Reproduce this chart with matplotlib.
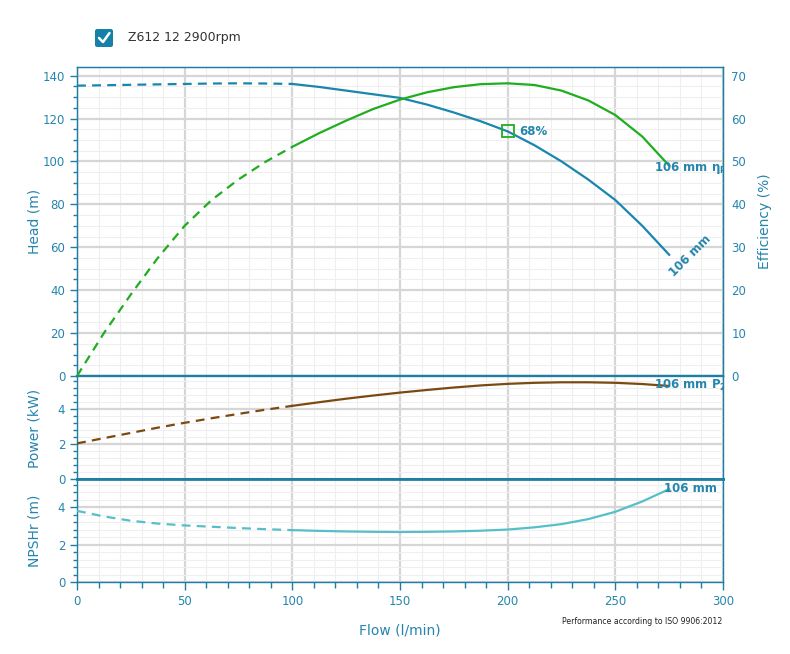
import matplotlib
matplotlib.use("Agg")
import matplotlib.pyplot as plt
from matplotlib.ticker import MultipleLocator
from matplotlib.patches import FancyBboxPatch

# ---------------- data ----------------
flow = [0, 12.5, 25, 37.5, 50, 62.5, 75, 87.5, 100, 112.5, 125, 137.5, 150,
        162.5, 175, 187.5, 200, 212.5, 225, 237.5, 250, 262.5, 275]
head = [135.3, 135.5, 135.7, 135.9, 136.1, 136.3, 136.4, 136.3, 136.1, 134.7,
        133.0, 131.3, 129.6, 126.5, 122.8, 118.7, 114.0, 107.5, 100.0, 91.5,
        82.0, 70.0, 56.5]
eff = [0, 10, 19, 27.5, 35, 41, 45.8, 49.9, 53.4, 56.6, 59.5, 62.2, 64.4,
       66.1, 67.3, 68.0, 68.2, 67.8, 66.5, 64.2, 60.8, 55.8, 49.0]
power = [2.04, 2.34, 2.64, 2.94, 3.22, 3.48, 3.73, 3.97, 4.19, 4.40, 4.60,
         4.78, 4.95, 5.10, 5.24, 5.36, 5.45, 5.51, 5.54, 5.54, 5.51, 5.44, 5.33]
npsh = [3.80, 3.50, 3.27, 3.12, 3.02, 2.95, 2.88, 2.82, 2.77, 2.73, 2.70,
        2.68, 2.67, 2.68, 2.70, 2.74, 2.80, 2.92, 3.09, 3.36, 3.75, 4.30, 4.96]
dash_end = 8          # index of flow 100 l/min: curves dashed before it
bep_flow, bep_head, bep_eff = 200, 114, 68
curve_label = "106 mm"
legend_label = "Z612 12 2900rpm"
xticks = [0, 50, 100, 150, 200, 250, 300]

# ---------------- styles ----------------
TEAL = "#1f7fa3"
TXT = "#2585ad"
HEAD_C = "#1a86ad"
EFF_C = "#20ad20"
POW_C = "#7a4a12"
NPSH_C = "#56bfc7"
GRID_MAJ = "#d6d6d6"
GRID_MIN = "#efefef"

W, H = 790, 654
fig = plt.figure(figsize=(W / 100, H / 100), dpi=100)
plt.rcParams["mathtext.fontset"] = "dejavusans"

def frac_rect(x0, y0, x1, y1):
    return [x0 / W, 1 - y1 / H, (x1 - x0) / W, (y1 - y0) / H]

ax_h = fig.add_axes(frac_rect(77, 67, 723, 376))
ax_p = fig.add_axes(frac_rect(77, 376, 723, 479), sharex=ax_h)
ax_n = fig.add_axes(frac_rect(77, 479, 723, 582), sharex=ax_h)

def style(ax, ymax, major, minor):
    ax.set_xlim(0, 300)
    ax.set_ylim(0, ymax)
    ax.xaxis.set_major_locator(MultipleLocator(50))
    ax.xaxis.set_minor_locator(MultipleLocator(10))
    ax.yaxis.set_major_locator(MultipleLocator(major))
    ax.yaxis.set_minor_locator(MultipleLocator(minor))
    ax.grid(which="major", color=GRID_MAJ, lw=1.6, zorder=0)
    ax.grid(which="minor", color=GRID_MIN, lw=0.8, zorder=0)
    ax.set_axisbelow(True)
    for s in ax.spines.values():
        s.set_color(TEAL)
        s.set_linewidth(1.0)
    ax.tick_params(axis="y", which="major", colors=TEAL, labelcolor=TXT,
                   labelsize=8.5, length=5, width=1)
    ax.tick_params(axis="y", which="minor", colors=TEAL, length=3, width=1)
    ax.tick_params(axis="x", which="both", colors=TEAL, labelcolor=TXT,
                   labelsize=8.5, length=4, width=1, direction="out")

style(ax_h, 144, 20, 5)
style(ax_p, 5.9, 2, 0.4)
style(ax_n, 5.5, 2, 0.4)
for ax in (ax_h, ax_p):
    ax.tick_params(axis="x", which="both", labelbottom=False, length=0)
ax_h.spines["bottom"].set_linewidth(1.6)
ax_p.spines["top"].set_linewidth(1.6)
ax_p.spines["bottom"].set_linewidth(2.0)
ax_n.spines["top"].set_linewidth(2.0)
ax_n.set_xticks(xticks)
ax_n.tick_params(axis="x", which="major", length=6)

ax_e = ax_h.twinx()
ax_e.set_ylim(0, 72)
ax_e.yaxis.set_major_locator(MultipleLocator(10))
ax_e.tick_params(axis="y", colors=TEAL, labelcolor=TXT, labelsize=8.5,
                 length=0, pad=6)
for s in ax_e.spines.values():
    s.set_color(TEAL)

# ---------------- curves ----------------
def draw(ax, y, color, lw=1.6):
    ax.plot(flow[:dash_end + 1], y[:dash_end + 1], color=color, lw=lw,
            ls=(0, (4, 2.8)), solid_capstyle="butt", zorder=3)
    ax.plot(flow[dash_end:], y[dash_end:], color=color, lw=lw, zorder=3,
            solid_joinstyle="round")

draw(ax_h, head, HEAD_C)
draw(ax_e, eff, EFF_C)
draw(ax_p, power, POW_C)
draw(ax_n, npsh, NPSH_C)

ax_h.plot([bep_flow], [bep_head], marker="s", ms=8, mfc="none", mec=EFF_C,
          mew=1.3, zorder=4)
ax_h.text(bep_flow + 5.5, bep_head, f"{bep_eff}%", color=TXT, fontsize=8.5,
          fontweight="bold", va="center", ha="left")

lab = dict(color=TXT, fontsize=8.5, fontweight="bold", clip_on=True)
ax_e.text(268, eff[-1] - 0.6,
          curve_label + r" $\mathbf{\eta_{P}}$",
          ha="left", va="center", **lab)
ax_h.text(284.7, 55.8, curve_label, rotation=45, ha="center", va="center",
          rotation_mode="anchor", **lab)
ax_p.text(268, power[-1] + 0.05,
          curve_label + r" $\mathbf{P_{2}}$",
          ha="left", va="center", **lab)
ax_n.text(272.5, npsh[-1] + 0.05, curve_label, ha="left", va="center", **lab)

# ---------------- axis titles ----------------
fig.text(35 / W, 1 - 221 / H, "Head (m)", rotation=90, color=TXT,
         fontsize=10, ha="center", va="center")
fig.text(765 / W, 1 - 221 / H, "Efficiency (%)", rotation=90, color=TXT,
         fontsize=10, ha="center", va="center")
fig.text(35 / W, 1 - 428 / H, "Power (kW)", rotation=90, color=TXT,
         fontsize=10, ha="center", va="center")
fig.text(35 / W, 1 - 531 / H, "NPSHr (m)", rotation=90, color=TXT,
         fontsize=10, ha="center", va="center")
fig.text(400 / W, 1 - 630 / H, "Flow (l/min)", color=TXT, fontsize=10,
         ha="center", va="center")
fig.text(562 / W, 1 - 621 / H, "Performance according to ISO 9906:2012",
         color="#222222", fontsize=5.6, ha="left", va="center")

# ---------------- legend (checkbox) ----------------
box = FancyBboxPatch((95 / W, 1 - 47 / H), 18 / W, 18 / H,
                     boxstyle="round,pad=0,rounding_size=0.003",
                     transform=fig.transFigure, fc="#1581a8", ec="none")
fig.add_artist(box)
fig.add_artist(plt.Line2D([99 / W, 103 / W, 109.5 / W],
                          [1 - 38 / H, 1 - 42 / H, 1 - 33 / H],
                          transform=fig.transFigure, color="white", lw=1.8,
                          solid_capstyle="round", solid_joinstyle="round"))
fig.text(128 / W, 1 - 38 / H, legend_label, color="#333333", fontsize=9,
         ha="left", va="center")

fig.savefig("out.png", dpi=100)
